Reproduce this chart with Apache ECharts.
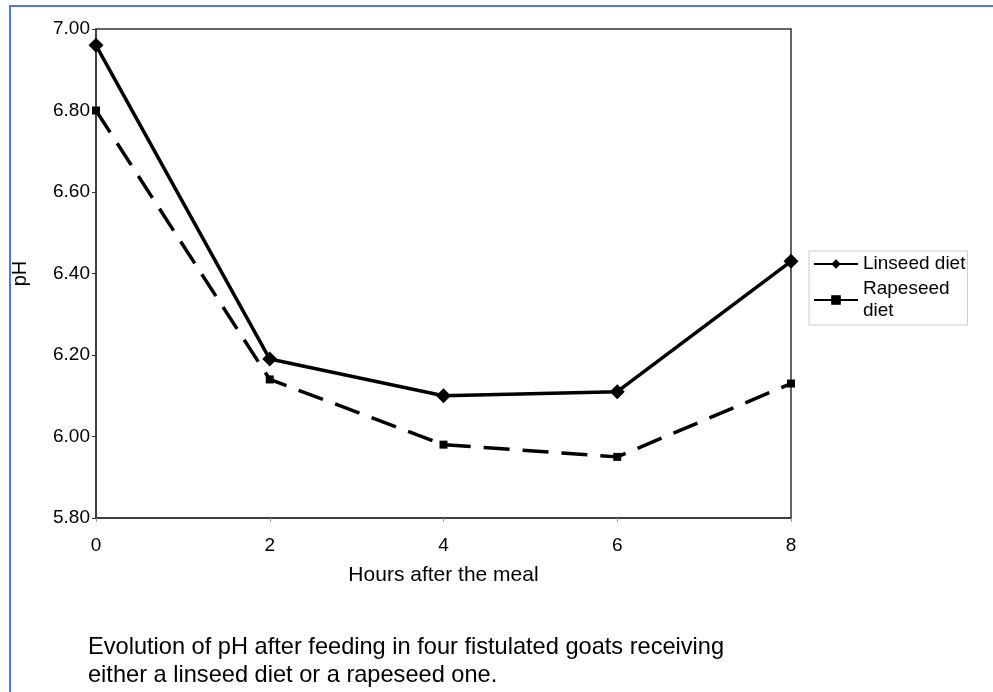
<!DOCTYPE html>
<html>
<head>
<meta charset="utf-8">
<script src="https://cdn.jsdelivr.net/npm/echarts@6/dist/echarts.min.js"></script>
<style>
html,body{margin:0;padding:0;background:#fff;}
#frame{position:absolute;left:9px;top:5px;width:990px;height:700px;border-top:2px solid #4a7bd6;border-left:2px solid #4a7bd6;}
#chart{position:absolute;left:0;top:0;width:993px;height:692px;}
</style>
</head>
<body>
<div id="frame"></div>
<div id="chart"></div>
<script>
const hours = [0, 2, 4, 6, 8];
const linseed = [6.96, 6.19, 6.10, 6.11, 6.43];
const rapeseed = [6.80, 6.14, 5.98, 5.95, 6.13];
const yTicks = [5.8, 6.0, 6.2, 6.4, 6.6, 6.8, 7.0];
const seriesNames = ['Linseed diet', 'Rapeseed diet'];
const caption = ['Evolution of pH after feeding in four fistulated goats receiving', 'either a linseed diet or a rapeseed one.'];

const chart = echarts.init(document.getElementById('chart'));
const font = 'Liberation Sans, Arial, sans-serif';
chart.setOption({
  backgroundColor: 'transparent',
  animation: false,
  grid: {left: 96, right: 202, top: 29, bottom: 174, show: true, borderColor: '#333', borderWidth: 1.5, backgroundColor: 'transparent'},
  xAxis: {
    type: 'value', min: 0, max: 8, interval: 2,
    name: 'Hours after the meal', nameLocation: 'middle', nameGap: 47,
    nameTextStyle: {fontFamily: font, fontSize: 21, color: '#000'},
    axisLine: {show: true, lineStyle: {color: '#333', width: 1.5}},
    axisTick: {show: true, length: 4, lineStyle: {color: '#999'}},
    axisLabel: {fontFamily: font, fontSize: 19, color: '#000', margin: 18},
    splitLine: {show: false}
  },
  yAxis: {
    type: 'value', min: yTicks[0], max: yTicks[yTicks.length - 1], interval: 0.2,
    name: 'pH', nameLocation: 'middle', nameGap: 66, nameRotate: 90,
    nameTextStyle: {fontFamily: font, fontSize: 20, color: '#000'},
    axisLine: {show: true, lineStyle: {color: '#333', width: 1.5}},
    axisTick: {show: true, length: 4, lineStyle: {color: '#333'}},
    axisLabel: {fontFamily: font, fontSize: 19, color: '#000', margin: 6, formatter: v => v.toFixed(2)},
    splitLine: {show: false}
  },
  legend: {
    orient: 'vertical', left: 809, top: 251, width: 158,
    padding: [2, 2, 3, 4], itemGap: 3, itemWidth: 44, itemHeight: 12,
    borderColor: '#ccc', borderWidth: 1,
    textStyle: {fontFamily: font, fontSize: 19, color: '#000', lineHeight: 22},
    formatter: n => n === 'Rapeseed diet' ? 'Rapeseed\ndiet' : n,
    data: [
      {name: seriesNames[0]},
      {name: seriesNames[1], lineStyle: {type: 'solid'}}
    ]
  },
  series: [
    {
      name: seriesNames[0], type: 'line',
      data: hours.map((h, i) => [h, linseed[i]]),
      symbol: 'diamond', symbolSize: 15,
      lineStyle: {color: '#000', width: 3.5},
      itemStyle: {color: '#000'}
    },
    {
      name: seriesNames[1], type: 'line',
      data: hours.map((h, i) => [h, rapeseed[i]]),
      symbol: 'rect', symbolSize: 8,
      lineStyle: {color: '#000', width: 3.5, type: [26, 13]},
      itemStyle: {color: '#000'}
    }
  ],
  graphic: [
    {type: 'text', left: 88, top: 633, style: {text: caption.join('\n'), font: '23.6px ' + font, fill: '#000', lineHeight: 28}}
  ]
});
</script>
</body>
</html>
